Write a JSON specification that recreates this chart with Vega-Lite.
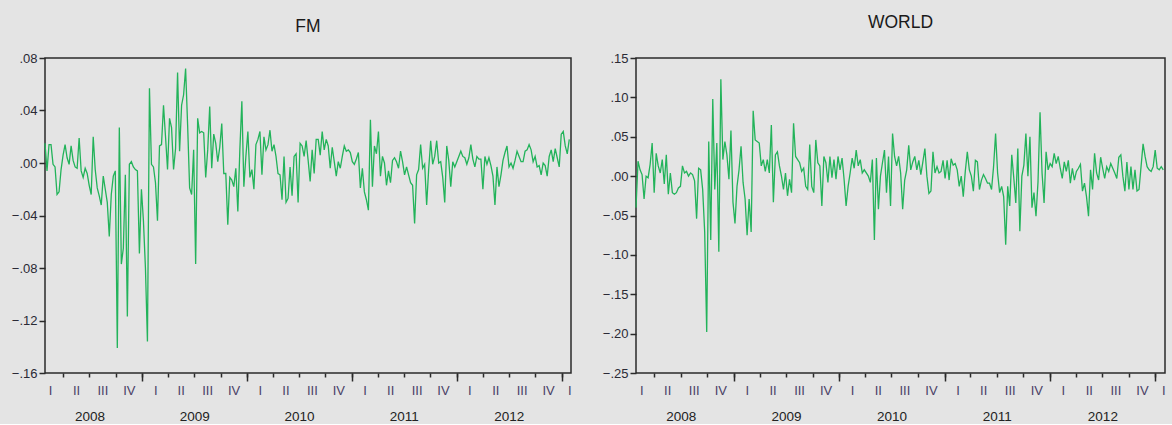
{
"$schema": "https://vega.github.io/schema/vega-lite/v6.json",
"background": "#e4e4e4",
"padding": {"left": 6, "top": 12, "right": 5, "bottom": 0},
"spacing": 24,
"config": {
  "font": "Liberation Sans",
  "view": {"stroke": "#2a2a2a", "strokeWidth": 1.5},
  "axis": {"grid": false, "domain": false, "labelFont": "Liberation Sans", "labelFontSize": 13, "labelColor": "#2a2a35", "tickColor": "#2a2a2a", "tickWidth": 1.5, "title": null},
  "title": {"font": "Liberation Sans", "fontSize": 17.5, "fontWeight": "normal", "color": "#1a1a1a", "offset": 22}
},
"data": {"values": [
{"d":"2008-01-28","fm":0.015,"w":-0.040},{"d":"2008-02-04","fm":-0.006,"w":0.019},{"d":"2008-02-11","fm":0.014,"w":0.008},{"d":"2008-02-18","fm":0.014,"w":0.002},{"d":"2008-02-25","fm":-0.001,"w":-0.029},{"d":"2008-03-03","fm":-0.003,"w":0.000},{"d":"2008-03-10","fm":-0.024,"w":-0.002},{"d":"2008-03-17","fm":-0.022,"w":0.015},{"d":"2008-03-24","fm":-0.005,"w":0.042},{"d":"2008-03-31","fm":0.006,"w":-0.021},
{"d":"2008-04-07","fm":0.014,"w":0.029},{"d":"2008-04-14","fm":0.004,"w":0.013},{"d":"2008-04-21","fm":-0.001,"w":0.004},{"d":"2008-04-28","fm":0.013,"w":0.021},{"d":"2008-05-05","fm":0.002,"w":-0.010},{"d":"2008-05-12","fm":-0.003,"w":0.027},{"d":"2008-05-19","fm":-0.004,"w":-0.023},{"d":"2008-05-26","fm":0.019,"w":0.004},{"d":"2008-06-02","fm":-0.006,"w":-0.021},{"d":"2008-06-09","fm":-0.011,"w":-0.023},
{"d":"2008-06-16","fm":-0.004,"w":-0.021},{"d":"2008-06-23","fm":-0.008,"w":-0.015},{"d":"2008-06-30","fm":-0.017,"w":-0.013},{"d":"2008-07-07","fm":-0.024,"w":0.013},{"d":"2008-07-14","fm":0.020,"w":0.004},{"d":"2008-07-21","fm":-0.005,"w":0.006},{"d":"2008-07-28","fm":-0.019,"w":0.000},{"d":"2008-08-04","fm":-0.025,"w":0.004},{"d":"2008-08-11","fm":-0.032,"w":0.002},{"d":"2008-08-18","fm":-0.010,"w":-0.006},
{"d":"2008-08-25","fm":-0.020,"w":-0.054},{"d":"2008-09-01","fm":-0.030,"w":0.010},{"d":"2008-09-08","fm":-0.056,"w":0.008},{"d":"2008-09-15","fm":-0.024,"w":-0.017},{"d":"2008-09-22","fm":-0.010,"w":-0.071},{"d":"2008-09-29","fm":-0.006,"w":-0.198},{"d":"2008-10-06","fm":-0.141,"w":0.044},{"d":"2008-10-13","fm":0.027,"w":-0.081},{"d":"2008-10-20","fm":-0.077,"w":0.098},{"d":"2008-10-27","fm":-0.065,"w":-0.017},
{"d":"2008-11-03","fm":-0.009,"w":0.042},{"d":"2008-11-10","fm":-0.117,"w":-0.096},{"d":"2008-11-17","fm":-0.001,"w":0.123},{"d":"2008-11-24","fm":0.001,"w":0.021},{"d":"2008-12-01","fm":-0.003,"w":0.044},{"d":"2008-12-08","fm":-0.005,"w":0.027},{"d":"2008-12-15","fm":-0.006,"w":-0.004},{"d":"2008-12-22","fm":-0.069,"w":0.058},{"d":"2008-12-29","fm":-0.020,"w":-0.033},{"d":"2009-01-05","fm":-0.044,"w":-0.060},
{"d":"2009-01-12","fm":-0.080,"w":-0.013},{"d":"2009-01-19","fm":-0.136,"w":0.008},{"d":"2009-01-26","fm":0.057,"w":0.038},{"d":"2009-02-02","fm":-0.001,"w":-0.008},{"d":"2009-02-09","fm":-0.003,"w":-0.029},{"d":"2009-02-16","fm":-0.015,"w":-0.075},{"d":"2009-02-23","fm":-0.044,"w":-0.029},{"d":"2009-03-02","fm":0.013,"w":-0.071},{"d":"2009-03-09","fm":0.014,"w":0.083},{"d":"2009-03-16","fm":0.044,"w":0.046},
{"d":"2009-03-23","fm":0.020,"w":0.044},{"d":"2009-03-30","fm":-0.005,"w":0.042},{"d":"2009-04-06","fm":0.034,"w":0.013},{"d":"2009-04-13","fm":0.027,"w":0.021},{"d":"2009-04-20","fm":-0.005,"w":0.006},{"d":"2009-04-27","fm":0.011,"w":0.021},{"d":"2009-05-04","fm":0.069,"w":0.004},{"d":"2009-05-11","fm":0.009,"w":0.065},{"d":"2009-05-18","fm":0.044,"w":-0.033},{"d":"2009-05-25","fm":0.052,"w":0.027},
{"d":"2009-06-01","fm":0.072,"w":0.031},{"d":"2009-06-08","fm":0.029,"w":0.013},{"d":"2009-06-15","fm":-0.019,"w":0.000},{"d":"2009-06-22","fm":-0.024,"w":-0.017},{"d":"2009-06-29","fm":0.010,"w":0.004},{"d":"2009-07-06","fm":-0.077,"w":-0.025},{"d":"2009-07-13","fm":0.034,"w":-0.004},{"d":"2009-07-20","fm":0.023,"w":-0.021},{"d":"2009-07-27","fm":0.024,"w":0.067},{"d":"2009-08-03","fm":0.023,"w":0.025},
{"d":"2009-08-10","fm":-0.011,"w":0.021},{"d":"2009-08-17","fm":0.010,"w":0.017},{"d":"2009-08-24","fm":0.043,"w":0.006},{"d":"2009-08-31","fm":-0.004,"w":0.010},{"d":"2009-09-07","fm":0.022,"w":-0.013},{"d":"2009-09-14","fm":0.015,"w":-0.017},{"d":"2009-09-21","fm":0.001,"w":0.040},{"d":"2009-09-28","fm":0.012,"w":-0.013},{"d":"2009-10-05","fm":0.030,"w":-0.021},{"d":"2009-10-12","fm":-0.008,"w":0.046},
{"d":"2009-10-19","fm":-0.008,"w":0.017},{"d":"2009-10-26","fm":-0.047,"w":0.013},{"d":"2009-11-02","fm":-0.011,"w":-0.038},{"d":"2009-11-09","fm":-0.013,"w":0.025},{"d":"2009-11-16","fm":-0.018,"w":0.017},{"d":"2009-11-23","fm":-0.004,"w":-0.008},{"d":"2009-11-30","fm":-0.037,"w":0.025},{"d":"2009-12-07","fm":0.010,"w":-0.002},{"d":"2009-12-14","fm":0.047,"w":0.021},{"d":"2009-12-21","fm":-0.018,"w":-0.004},
{"d":"2009-12-28","fm":0.005,"w":0.025},{"d":"2010-01-04","fm":0.024,"w":0.008},{"d":"2010-01-11","fm":-0.011,"w":0.023},{"d":"2010-01-18","fm":-0.005,"w":-0.004},{"d":"2010-01-25","fm":-0.020,"w":-0.038},{"d":"2010-02-01","fm":0.014,"w":-0.013},{"d":"2010-02-08","fm":0.018,"w":0.004},{"d":"2010-02-15","fm":0.024,"w":0.023},{"d":"2010-02-22","fm":-0.009,"w":0.010},{"d":"2010-03-01","fm":0.020,"w":0.033},
{"d":"2010-03-08","fm":0.010,"w":0.013},{"d":"2010-03-15","fm":0.014,"w":0.021},{"d":"2010-03-22","fm":0.025,"w":0.004},{"d":"2010-03-29","fm":0.009,"w":0.008},{"d":"2010-04-05","fm":0.014,"w":0.004},{"d":"2010-04-12","fm":0.005,"w":0.000},{"d":"2010-04-19","fm":-0.008,"w":-0.008},{"d":"2010-04-26","fm":-0.009,"w":0.021},{"d":"2010-05-03","fm":-0.028,"w":-0.081},{"d":"2010-05-10","fm":0.005,"w":0.023},
{"d":"2010-05-17","fm":-0.030,"w":-0.042},{"d":"2010-05-24","fm":-0.027,"w":0.000},{"d":"2010-05-31","fm":-0.003,"w":0.017},{"d":"2010-06-07","fm":-0.025,"w":0.033},{"d":"2010-06-14","fm":0.005,"w":-0.021},{"d":"2010-06-21","fm":0.007,"w":0.025},{"d":"2010-06-28","fm":-0.030,"w":-0.038},{"d":"2010-07-05","fm":0.015,"w":0.054},{"d":"2010-07-12","fm":0.013,"w":0.025},{"d":"2010-07-19","fm":0.005,"w":0.013},
{"d":"2010-07-26","fm":0.017,"w":0.025},{"d":"2010-08-02","fm":0.002,"w":0.004},{"d":"2010-08-09","fm":-0.014,"w":-0.042},{"d":"2010-08-16","fm":0.010,"w":-0.005},{"d":"2010-08-23","fm":-0.008,"w":0.008},{"d":"2010-08-30","fm":0.018,"w":0.039},{"d":"2010-09-06","fm":0.018,"w":0.008},{"d":"2010-09-13","fm":0.006,"w":0.018},{"d":"2010-09-20","fm":0.024,"w":0.025},{"d":"2010-09-27","fm":0.010,"w":0.008},
{"d":"2010-10-04","fm":0.018,"w":0.020},{"d":"2010-10-11","fm":0.013,"w":0.002},{"d":"2010-10-18","fm":-0.004,"w":0.018},{"d":"2010-10-25","fm":0.012,"w":0.035},{"d":"2010-11-01","fm":0.001,"w":0.000},{"d":"2010-11-08","fm":-0.010,"w":-0.022},{"d":"2010-11-15","fm":0.001,"w":-0.019},{"d":"2010-11-22","fm":-0.004,"w":0.031},{"d":"2010-11-29","fm":0.005,"w":0.004},{"d":"2010-12-06","fm":0.013,"w":0.012},
{"d":"2010-12-13","fm":0.009,"w":0.004},{"d":"2010-12-20","fm":0.010,"w":0.006},{"d":"2010-12-27","fm":0.008,"w":0.020},{"d":"2011-01-03","fm":0.001,"w":-0.003},{"d":"2011-01-10","fm":-0.001,"w":0.020},{"d":"2011-01-17","fm":0.003,"w":-0.005},{"d":"2011-01-24","fm":0.008,"w":0.022},{"d":"2011-01-31","fm":-0.019,"w":0.014},{"d":"2011-02-07","fm":-0.004,"w":0.016},{"d":"2011-02-14","fm":-0.022,"w":0.008},
{"d":"2011-02-21","fm":-0.028,"w":-0.013},{"d":"2011-02-28","fm":-0.036,"w":0.000},{"d":"2011-03-07","fm":0.033,"w":-0.026},{"d":"2011-03-14","fm":-0.018,"w":0.006},{"d":"2011-03-21","fm":0.013,"w":0.031},{"d":"2011-03-28","fm":0.007,"w":0.008},{"d":"2011-04-04","fm":0.024,"w":0.000},{"d":"2011-04-11","fm":-0.010,"w":-0.019},{"d":"2011-04-18","fm":0.005,"w":0.020},{"d":"2011-04-25","fm":0.000,"w":0.018},
{"d":"2011-05-02","fm":-0.017,"w":-0.017},{"d":"2011-05-09","fm":-0.006,"w":-0.005},{"d":"2011-05-16","fm":-0.015,"w":0.002},{"d":"2011-05-23","fm":0.002,"w":-0.003},{"d":"2011-05-30","fm":0.004,"w":-0.009},{"d":"2011-06-06","fm":0.001,"w":-0.009},{"d":"2011-06-13","fm":-0.004,"w":-0.017},{"d":"2011-06-20","fm":0.009,"w":0.012},{"d":"2011-06-27","fm":0.001,"w":0.054},{"d":"2011-07-04","fm":-0.009,"w":0.004},
{"d":"2011-07-11","fm":-0.003,"w":-0.021},{"d":"2011-07-18","fm":-0.009,"w":-0.013},{"d":"2011-07-25","fm":-0.015,"w":-0.026},{"d":"2011-08-01","fm":-0.017,"w":-0.087},{"d":"2011-08-08","fm":-0.046,"w":-0.013},{"d":"2011-08-15","fm":-0.009,"w":-0.038},{"d":"2011-08-22","fm":-0.005,"w":0.027},{"d":"2011-08-29","fm":0.014,"w":-0.002},{"d":"2011-09-05","fm":-0.004,"w":-0.034},{"d":"2011-09-12","fm":-0.001,"w":0.035},
{"d":"2011-09-19","fm":-0.032,"w":-0.070},{"d":"2011-09-26","fm":-0.005,"w":0.000},{"d":"2011-10-03","fm":0.017,"w":0.014},{"d":"2011-10-10","fm":-0.001,"w":0.054},{"d":"2011-10-17","fm":0.005,"w":0.000},{"d":"2011-10-24","fm":0.017,"w":0.050},{"d":"2011-10-31","fm":0.000,"w":-0.040},{"d":"2011-11-07","fm":0.001,"w":-0.021},{"d":"2011-11-14","fm":-0.011,"w":-0.051},{"d":"2011-11-21","fm":-0.030,"w":-0.007},
{"d":"2011-11-28","fm":0.013,"w":0.081},{"d":"2011-12-05","fm":0.002,"w":0.004},{"d":"2011-12-12","fm":-0.018,"w":-0.034},{"d":"2011-12-19","fm":0.001,"w":0.031},{"d":"2011-12-26","fm":-0.003,"w":0.008},{"d":"2012-01-02","fm":0.001,"w":0.016},{"d":"2012-01-09","fm":0.005,"w":0.012},{"d":"2012-01-16","fm":0.009,"w":0.029},{"d":"2012-01-23","fm":0.005,"w":0.016},{"d":"2012-01-30","fm":0.004,"w":0.025},
{"d":"2012-02-06","fm":-0.001,"w":0.010},{"d":"2012-02-13","fm":0.004,"w":-0.003},{"d":"2012-02-20","fm":0.014,"w":0.018},{"d":"2012-02-27","fm":0.003,"w":0.006},{"d":"2012-03-05","fm":-0.003,"w":0.020},{"d":"2012-03-12","fm":0.005,"w":-0.009},{"d":"2012-03-19","fm":0.003,"w":0.010},{"d":"2012-03-26","fm":0.003,"w":-0.005},{"d":"2012-04-02","fm":-0.020,"w":0.006},{"d":"2012-04-09","fm":0.005,"w":0.010},
{"d":"2012-04-16","fm":-0.001,"w":0.015},{"d":"2012-04-23","fm":0.004,"w":-0.019},{"d":"2012-04-30","fm":-0.002,"w":-0.009},{"d":"2012-05-07","fm":-0.010,"w":-0.026},{"d":"2012-05-14","fm":-0.032,"w":-0.051},{"d":"2012-05-21","fm":-0.003,"w":0.008},{"d":"2012-05-28","fm":-0.018,"w":-0.017},{"d":"2012-06-04","fm":-0.009,"w":0.029},{"d":"2012-06-11","fm":0.002,"w":0.004},{"d":"2012-06-18","fm":0.008,"w":-0.005},
{"d":"2012-06-25","fm":0.013,"w":0.024},{"d":"2012-07-02","fm":-0.003,"w":0.010},{"d":"2012-07-09","fm":0.000,"w":-0.003},{"d":"2012-07-16","fm":-0.004,"w":0.012},{"d":"2012-07-23","fm":0.002,"w":0.006},{"d":"2012-07-30","fm":0.009,"w":0.016},{"d":"2012-08-06","fm":0.005,"w":0.010},{"d":"2012-08-13","fm":0.001,"w":0.004},{"d":"2012-08-20","fm":0.001,"w":-0.003},{"d":"2012-08-27","fm":0.009,"w":0.024},
{"d":"2012-09-03","fm":0.010,"w":0.027},{"d":"2012-09-10","fm":0.014,"w":0.000},{"d":"2012-09-17","fm":0.010,"w":-0.019},{"d":"2012-09-24","fm":0.001,"w":0.018},{"d":"2012-10-01","fm":0.005,"w":-0.017},{"d":"2012-10-08","fm":-0.003,"w":0.012},{"d":"2012-10-15","fm":-0.002,"w":-0.017},{"d":"2012-10-22","fm":-0.009,"w":0.008},{"d":"2012-10-29","fm":0.000,"w":-0.019},{"d":"2012-11-05","fm":-0.002,"w":-0.017},
{"d":"2012-11-12","fm":-0.010,"w":0.012},{"d":"2012-11-19","fm":0.005,"w":0.041},{"d":"2012-11-26","fm":0.010,"w":0.025},{"d":"2012-12-03","fm":0.001,"w":0.012},{"d":"2012-12-10","fm":0.011,"w":0.008},{"d":"2012-12-17","fm":0.004,"w":0.006},{"d":"2012-12-24","fm":-0.003,"w":0.012},{"d":"2012-12-31","fm":0.022,"w":0.033},{"d":"2013-01-07","fm":0.024,"w":0.010},{"d":"2013-01-14","fm":0.013,"w":0.008},
{"d":"2013-01-21","fm":0.007,"w":0.012},{"d":"2013-01-28","fm":0.018,"w":0.008}
]},
"hconcat": [
{
  "width": 526, "height": 315,
  "title": {"text": "FM", "offset": 17},
  "resolve": {"axis": {"x": "independent"}},
  "encoding": {
    "y": {"field": "fm", "type": "quantitative", "scale": {"domain": [-0.16, 0.08], "nice": false, "zero": false},
          "axis": {"values": [-0.16, -0.12, -0.08, -0.04, 0, 0.04, 0.08], "labelOverlap": false, "labelExpr": "replace(format(datum.value, '.2f'), '0.', '.')", "tickSize": 6, "labelPadding": 2, "minExtent": 38, "maxExtent": 38}}
  },
  "layer": [
    {"mark": {"type": "line", "color": "#22b35a", "strokeWidth": 1.3},
     "encoding": {
       "x": {"field": "d", "type": "temporal", "scale": {"domain": [{"year": 2008, "month": 1, "date": 28}, {"year": 2013, "month": 2, "date": 3}], "nice": false},
             "axis": {"orient": "bottom", "labels": false, "tickCount": {"interval": "month", "step": 3}, "tickSize": 4}}
     }},
    {"mark": {"type": "line", "strokeOpacity": 0},
     "encoding": {
       "x": {"field": "d", "type": "temporal", "axis": {"orient": "bottom", "labels": false, "tickCount": {"interval": "year", "step": 1}, "tickSize": 8}}
     }},
    {"mark": {"type": "line", "strokeOpacity": 0},
     "encoding": {
       "x": {"field": "d", "type": "temporal", "axis": {"orient": "bottom", "ticks": false, "labelPadding": 11, "labelColor": "#4a3f66", "labelFlush": false, "labelOverlap": false, "labelBound": false,
             "values": [{"year":2008,"month":2,"date":15},{"year":2008,"month":5,"date":15},{"year":2008,"month":8,"date":15},{"year":2008,"month":11,"date":15},
                        {"year":2009,"month":2,"date":15},{"year":2009,"month":5,"date":15},{"year":2009,"month":8,"date":15},{"year":2009,"month":11,"date":15},
                        {"year":2010,"month":2,"date":15},{"year":2010,"month":5,"date":15},{"year":2010,"month":8,"date":15},{"year":2010,"month":11,"date":15},
                        {"year":2011,"month":2,"date":15},{"year":2011,"month":5,"date":15},{"year":2011,"month":8,"date":15},{"year":2011,"month":11,"date":15},
                        {"year":2012,"month":2,"date":15},{"year":2012,"month":5,"date":15},{"year":2012,"month":8,"date":15},{"year":2012,"month":11,"date":15},
                        {"year":2013,"month":1,"date":28}],
             "labelExpr": "month(datum.value) < 3 ? 'I' : month(datum.value) < 6 ? 'II' : month(datum.value) < 9 ? 'III' : 'IV'"}}
     }},
    {"mark": {"type": "line", "strokeOpacity": 0},
     "encoding": {
       "x": {"field": "d", "type": "temporal", "axis": {"orient": "bottom", "ticks": false, "labelPadding": 36, "labelFontSize": 13.5, "labelColor": "#222222", "labelFlush": false, "labelOverlap": false, "format": "%Y",
             "values": [{"year":2008,"month":7,"date":1},{"year":2009,"month":7,"date":1},{"year":2010,"month":7,"date":1},{"year":2011,"month":7,"date":1},{"year":2012,"month":7,"date":1}]}}
     }}
  ]
},
{
  "width": 529, "height": 315,
  "title": {"text": "WORLD", "offset": 21},
  "resolve": {"axis": {"x": "independent"}},
  "encoding": {
    "y": {"field": "w", "type": "quantitative", "scale": {"domain": [-0.25, 0.15], "nice": false, "zero": false},
          "axis": {"values": [-0.25, -0.2, -0.15, -0.1, -0.05, 0, 0.05, 0.1, 0.15], "labelOverlap": false, "labelExpr": "replace(format(datum.value, '.2f'), '0.', '.')", "tickSize": 6, "labelPadding": 2, "minExtent": 38, "maxExtent": 38}}
  },
  "layer": [
    {"mark": {"type": "line", "color": "#22b35a", "strokeWidth": 1.3},
     "encoding": {
       "x": {"field": "d", "type": "temporal", "scale": {"domain": [{"year": 2008, "month": 1, "date": 28}, {"year": 2013, "month": 2, "date": 3}], "nice": false},
             "axis": {"orient": "bottom", "labels": false, "tickCount": {"interval": "month", "step": 3}, "tickSize": 4}}
     }},
    {"mark": {"type": "line", "strokeOpacity": 0},
     "encoding": {
       "x": {"field": "d", "type": "temporal", "axis": {"orient": "bottom", "labels": false, "tickCount": {"interval": "year", "step": 1}, "tickSize": 8}}
     }},
    {"mark": {"type": "line", "strokeOpacity": 0},
     "encoding": {
       "x": {"field": "d", "type": "temporal", "axis": {"orient": "bottom", "ticks": false, "labelPadding": 11, "labelColor": "#4a3f66", "labelFlush": false, "labelOverlap": false, "labelBound": false,
             "values": [{"year":2008,"month":2,"date":15},{"year":2008,"month":5,"date":15},{"year":2008,"month":8,"date":15},{"year":2008,"month":11,"date":15},
                        {"year":2009,"month":2,"date":15},{"year":2009,"month":5,"date":15},{"year":2009,"month":8,"date":15},{"year":2009,"month":11,"date":15},
                        {"year":2010,"month":2,"date":15},{"year":2010,"month":5,"date":15},{"year":2010,"month":8,"date":15},{"year":2010,"month":11,"date":15},
                        {"year":2011,"month":2,"date":15},{"year":2011,"month":5,"date":15},{"year":2011,"month":8,"date":15},{"year":2011,"month":11,"date":15},
                        {"year":2012,"month":2,"date":15},{"year":2012,"month":5,"date":15},{"year":2012,"month":8,"date":15},{"year":2012,"month":11,"date":15},
                        {"year":2013,"month":1,"date":28}],
             "labelExpr": "month(datum.value) < 3 ? 'I' : month(datum.value) < 6 ? 'II' : month(datum.value) < 9 ? 'III' : 'IV'"}}
     }},
    {"mark": {"type": "line", "strokeOpacity": 0},
     "encoding": {
       "x": {"field": "d", "type": "temporal", "axis": {"orient": "bottom", "ticks": false, "labelPadding": 36, "labelFontSize": 13.5, "labelColor": "#222222", "labelFlush": false, "labelOverlap": false, "format": "%Y",
             "values": [{"year":2008,"month":7,"date":1},{"year":2009,"month":7,"date":1},{"year":2010,"month":7,"date":1},{"year":2011,"month":7,"date":1},{"year":2012,"month":7,"date":1}]}}
     }}
  ]
}
]
}
